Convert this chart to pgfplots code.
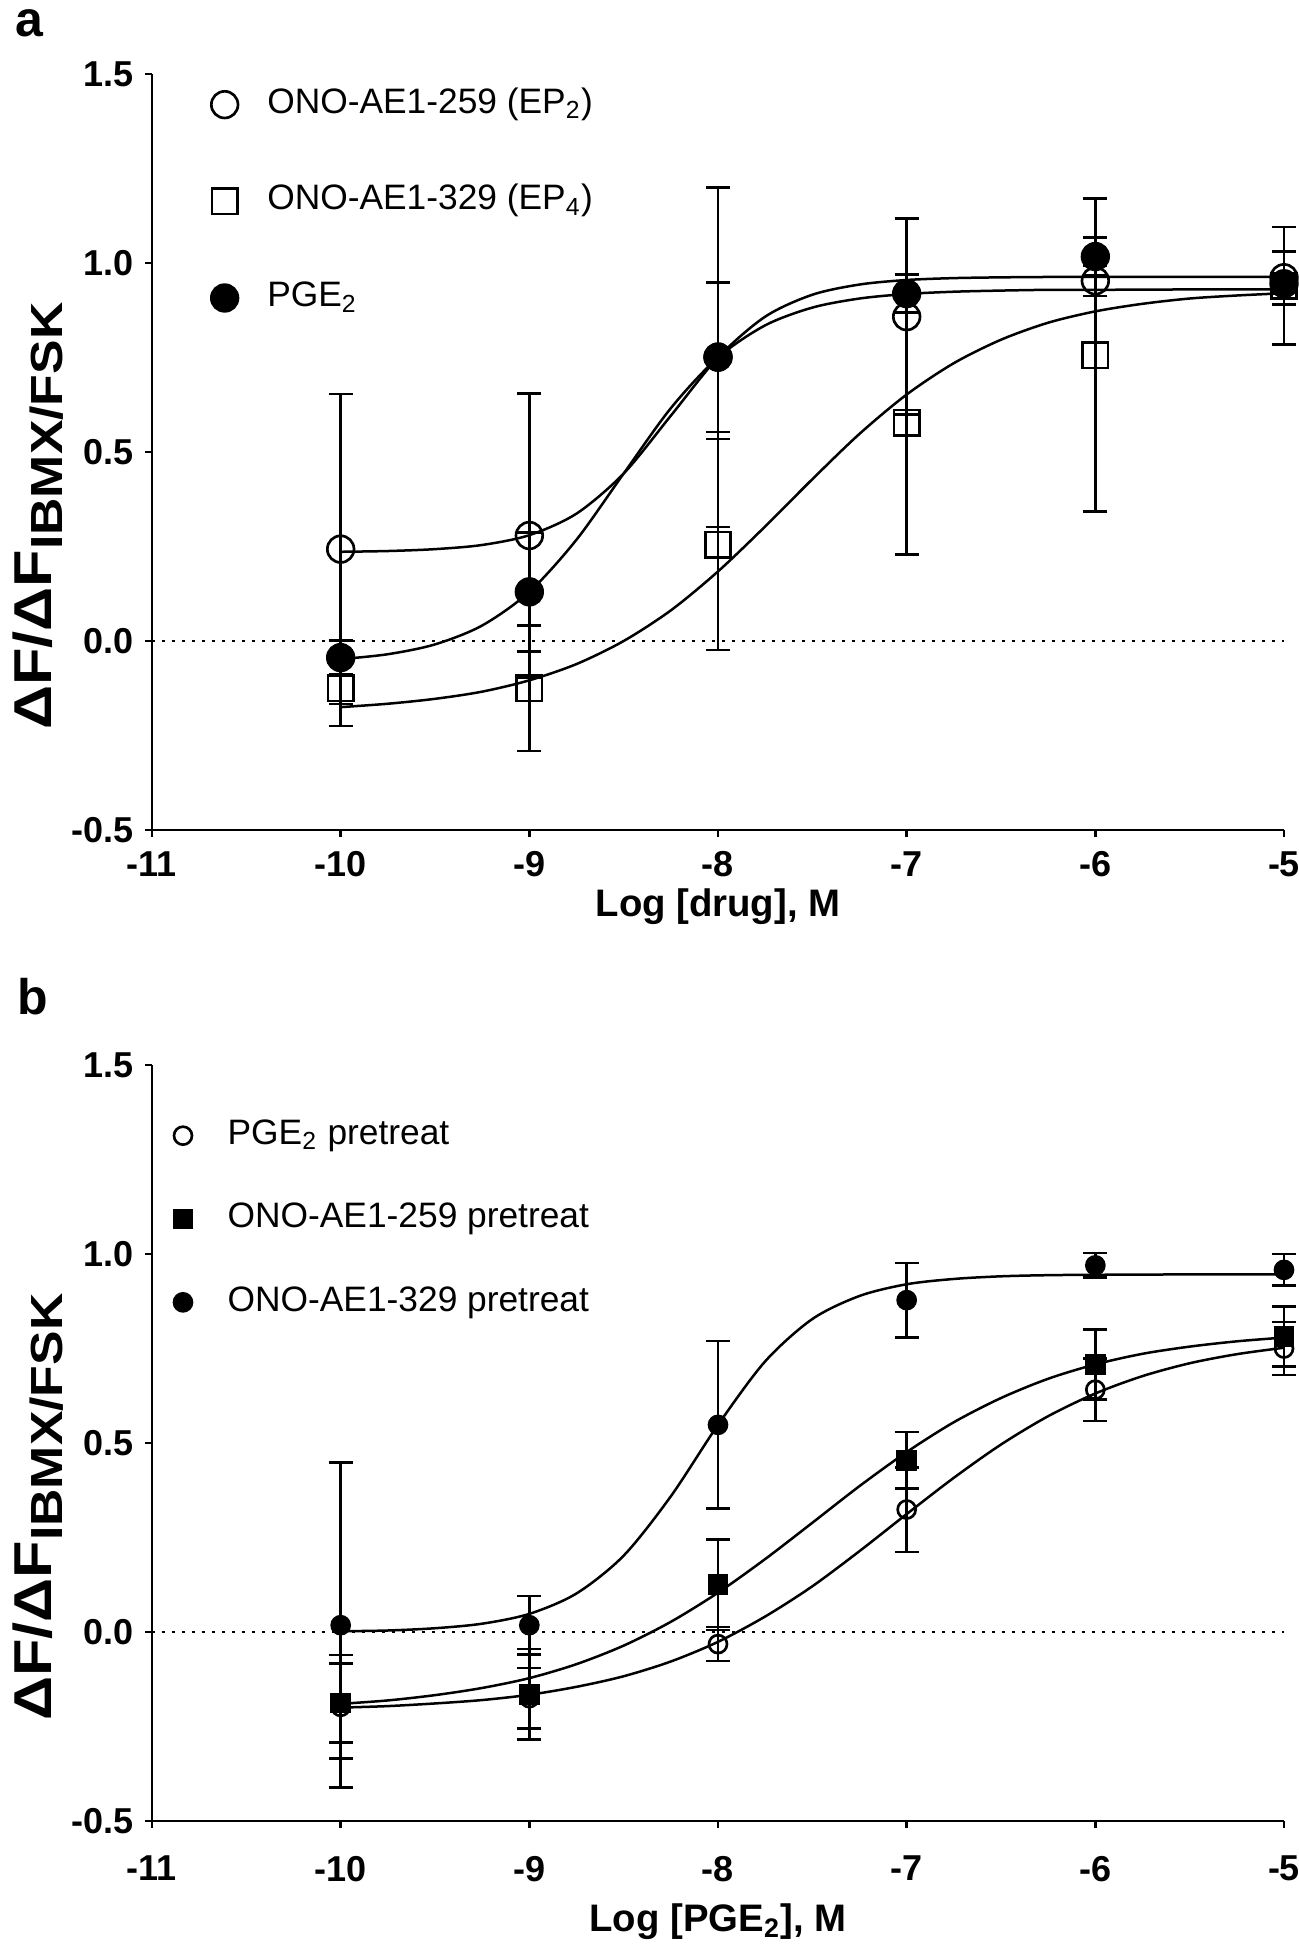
\documentclass[border=0pt]{standalone}
\usepackage{graphicx}
\usepackage{pgfplots}
\pgfplotsset{compat=1.18}
\usepackage{fontspec}
\setmainfont{Liberation Sans}
\newcommand{\ylab}{\scalebox{1.15}[1]{ΔF/ΔF\raisebox{-0.22em}{\fontsize{13.5}{15}\selectfont IBMX/FSK}}}
\begin{document}
\begin{tikzpicture}
\path[use as bounding box] (-45.6pt,-336pt) rectangle (344.1pt,249pt);
\pgfplotsset{
  panel/.style={
    scale only axis, width=339.6pt, height=226.8pt,
    xmin=-11, xmax=-5, ymin=-0.5, ymax=1.5,
    axis x line*=bottom, axis y line*=left,
    axis line style={line width=0.8pt},
    xtick={-11,-10,-9,-8,-7,-6,-5},
    xticklabels={-11,-10,-9,-8,-7,-6,-5},
    ytick={-0.5,0,0.5,1,1.5},
    yticklabels={-0.5,0.0,0.5,1.0,1.5},
    tick align=outside, major tick length=2pt,
    every tick/.style={black, line width=0.8pt},
    tick label style={font=\fontsize{10.8}{12}\selectfont\bfseries},
    xlabel style={font=\fontsize{11.5}{13}\selectfont\bfseries, anchor=center},
    ylabel style={font=\fontsize{16}{18}\selectfont\bfseries, at={(axis description cs:-0.1007,0.415)}, anchor=center},
    legend cell align=left,
    clip=false,
  },
  eb/.style={error bars/y dir=both, error bars/y explicit,
    error bars/error bar style={line width=0.8pt, solid},
    error bars/error mark options={rotate=90, mark size=#1, line width=0.8pt}},
  fit/.style={black, line width=0.75pt, smooth, no markers, forget plot},
}
% ---------------- panel a ----------------
\begin{axis}[panel, at={(0,0)}, anchor=south west,
  xticklabel style={yshift=-1pt},
  xlabel={Log [drug], M},
  xlabel style={at={(axis description cs:0.5,-0.101)}},
  ylabel={\ylab},
  legend style={draw=none, fill=none, at={(axis description cs:0,1)}, anchor=north west,
    xshift=17.6pt, yshift=-4pt, inner sep=0pt, row sep=19pt,
    font=\fontsize{10.6}{12.7}\selectfont,
    nodes={inner sep=0pt, text height=7.6pt, text depth=2.4pt},
    /tikz/every odd column/.append style={column sep=8.8pt}},
]
\addplot[black, dash pattern=on 0.9pt off 2.1pt, line width=0.7pt, forget plot] coordinates {(-11,0) (-5,0)};
\addplot[fit] coordinates {(-10,0.236) (-9.75,0.238) (-9.5,0.243) (-9.25,0.254) (-9,0.280) (-8.75,0.337) (-8.5,0.443) (-8.25,0.596) (-8,0.750) (-7.75,0.858) (-7.5,0.916) (-7.25,0.943) (-7,0.955) (-6.75,0.960) (-6.5,0.962) (-6.25,0.963) (-6,0.963) (-5.5,0.963) (-5,0.963)};
\addplot[fit] coordinates {(-10,-0.048) (-9.75,-0.035) (-9.5,-0.009) (-9.25,0.041) (-9,0.130) (-8.75,0.268) (-8.5,0.443) (-8.25,0.616) (-8,0.750) (-7.75,0.835) (-7.5,0.882) (-7.25,0.906) (-7,0.918) (-6.75,0.924) (-6.5,0.927) (-6.25,0.929) (-6,0.929) (-5.5,0.930) (-5,0.930)};
\addplot[fit] coordinates {(-10,-0.175) (-9.75,-0.166) (-9.5,-0.153) (-9.25,-0.134) (-9,-0.104) (-8.75,-0.061) (-8.5,0.000) (-8.25,0.081) (-8,0.184) (-7.75,0.303) (-7.5,0.428) (-7.25,0.548) (-7,0.652) (-6.75,0.735) (-6.5,0.797) (-6.25,0.842) (-6,0.872) (-5.75,0.892) (-5.5,0.906) (-5.25,0.914) (-5,0.920)};
\addplot[black, only marks, mark=o, mark size=4pt, mark options={line width=0.8pt}, eb=3.6pt]
  table[x=x, y=y, y error=e] {
x y e
-10 0.243 0.41
-9 0.279 0.375
-8 0.751 0.449
-7 0.858 0.259
-6 0.953 0.04
-5 0.961 0.07
};
\addlegendentry{ONO-AE1-259 (EP\textsubscript{2})}
\addplot[black, only marks, mark=square, mark size=3.8pt, mark options={line width=0.8pt}, eb=3.6pt]
  table[x=x, y=y, y error=e] {
x y e
-10 -0.125 0.10
-9 -0.125 0.166
-8 0.255 0.279
-7 0.578 0.35
-6 0.756 0.414
-5 0.940 0.155
};
\addlegendentry{ONO-AE1-329 (EP\textsubscript{4})}
\addplot[black, only marks, mark=*, mark size=4pt, mark options={line width=0.8pt}, eb=3.6pt]
  table[x=x, y=y, y error=e] {
x y e
-10 -0.044 0.045
-9 0.130 0.157
-8 0.751 0.198
-7 0.919 0.05
-6 1.017 0.05
-5 0.945 0.02
};
\addlegendentry{PGE\textsubscript{2}}
\end{axis}
% ---------------- panel b ----------------
\begin{axis}[panel, at={(0,-297.3pt)}, anchor=south west,
  xticklabel style={yshift=-5pt},
  xlabel={Log [PGE\textsubscript{2}], M},
  xlabel style={at={(axis description cs:0.5,-0.1336)}},
  ylabel={\ylab},
  legend style={draw=none, fill=none, at={(axis description cs:0,1)}, anchor=north west,
    xshift=6.4pt, yshift=-16pt, inner sep=0pt, row sep=15pt,
    font=\fontsize{10.6}{12.7}\selectfont,
    nodes={inner sep=0pt, text height=7.6pt, text depth=2.4pt},
    /tikz/every odd column/.append style={column sep=10.7pt}},
]
\addplot[black, dash pattern=on 0.9pt off 2.1pt, line width=0.7pt, forget plot] coordinates {(-11,0) (-5,0)};
\addplot[fit] coordinates {(-10,-0.200) (-9.75,-0.196) (-9.5,-0.189) (-9.25,-0.180) (-9,-0.166) (-8.75,-0.145) (-8.5,-0.117) (-8.25,-0.078) (-8,-0.026) (-7.75,0.041) (-7.5,0.121) (-7.25,0.214) (-7,0.312) (-6.75,0.408) (-6.5,0.496) (-6.25,0.571) (-6,0.631) (-5.75,0.677) (-5.5,0.711) (-5.25,0.735) (-5,0.752)};
\addplot[fit] coordinates {(-10,-0.190) (-9.75,-0.181) (-9.5,-0.167) (-9.25,-0.148) (-9,-0.122) (-8.75,-0.085) (-8.5,-0.036) (-8.25,0.027) (-8,0.104) (-7.75,0.193) (-7.5,0.289) (-7.25,0.386) (-7,0.476) (-6.75,0.555) (-6.5,0.619) (-6.25,0.670) (-6,0.708) (-5.75,0.736) (-5.5,0.755) (-5.25,0.769) (-5,0.779)};
\addplot[fit] coordinates {(-10,0.002) (-9.75,0.004) (-9.5,0.010) (-9.25,0.022) (-9,0.048) (-8.75,0.102) (-8.5,0.202) (-8.25,0.359) (-8,0.548) (-7.75,0.716) (-7.5,0.828) (-7.25,0.889) (-7,0.920) (-6.75,0.934) (-6.5,0.941) (-6.25,0.944) (-6,0.945) (-5.5,0.946) (-5,0.946)};
\addplot[black, only marks, mark=o, mark size=2.7pt, mark options={line width=0.8pt}, eb=3.6pt]
  table[x=x, y=y, y error=e] {
x y e
-10 -0.198 0.137
-9 -0.175 0.08
-8 -0.032 0.045
-7 0.324 0.112
-6 0.641 0.083
-5 0.750 0.07
};
\addlegendentry{PGE\textsubscript{2} pretreat}
\addplot[black, only marks, mark=square*, mark size=2.7pt, mark options={line width=0.8pt}, eb=3.6pt]
  table[x=x, y=y, y error=e] {
x y e
-10 -0.188 0.105
-9 -0.165 0.12
-8 0.125 0.12
-7 0.454 0.075
-6 0.708 0.093
-5 0.782 0.08
};
\addlegendentry{ONO-AE1-259 pretreat}
\addplot[black, only marks, mark=*, mark size=2.7pt, mark options={line width=0.8pt}, eb=3.6pt]
  table[x=x, y=y, y error=e] {
x y e
-10 0.018 0.43
-9 0.018 0.077
-8 0.548 0.222
-7 0.878 0.098
-6 0.970 0.033
-5 0.958 0.042
};
\addlegendentry{ONO-AE1-329 pretreat}
\end{axis}
\node[anchor=base west, inner sep=0pt, font=\fontsize{15}{17}\selectfont\bfseries] at (-41.1pt,237.9pt) {a};
\node[anchor=base west, inner sep=0pt, font=\fontsize{15}{17}\selectfont\bfseries] at (-40.5pt,-55.5pt) {b};
\end{tikzpicture}
\end{document}
